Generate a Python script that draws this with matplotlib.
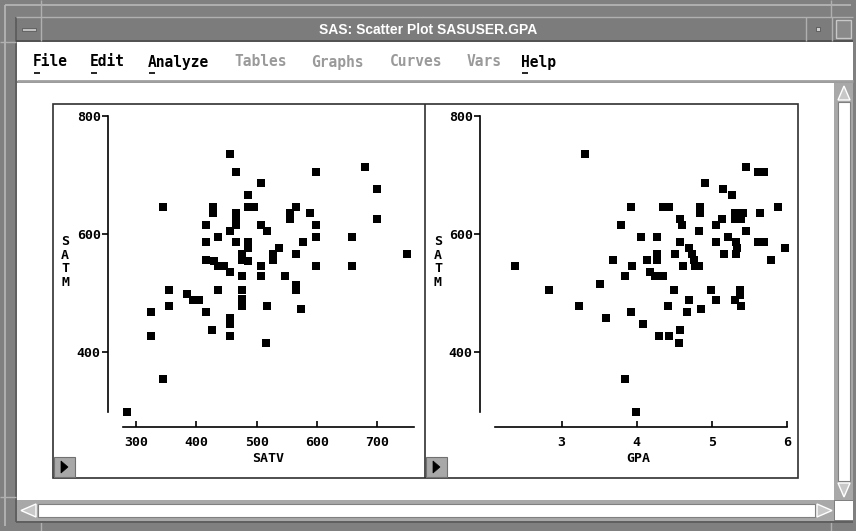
import matplotlib
matplotlib.use("Agg")
from matplotlib import pyplot as plt
from matplotlib.patches import Rectangle, Polygon

# SATV vs SATM (left panel)
satv = [456, 466, 598, 680, 507, 700, 486, 345, 427, 427, 486, 496, 566, 556, 556,
        589, 466, 466, 466, 700, 416, 507, 598, 456, 518, 436, 598, 658, 416, 466,
        486, 486, 577, 537, 475, 475, 486, 527, 527, 566, 749, 416, 429, 436, 446,
        507, 598, 658, 456, 475, 507, 547, 566, 566, 355, 475, 436, 384, 395, 405,
        475, 475, 355, 518, 573, 325, 416, 456, 456, 426, 325, 456, 516, 345, 285]
satm_v = [736, 705, 705, 714, 686, 676, 666, 646, 646, 636, 646, 646, 646, 636, 626,
          636, 635, 625, 615, 626, 615, 615, 615, 605, 605, 595, 595, 595, 586, 586,
          586, 577, 586, 577, 566, 556, 554, 566, 556, 566, 566, 556, 554, 546, 546,
          546, 546, 546, 536, 528, 528, 528, 514, 505, 505, 505, 505, 498, 488, 488,
          489, 478, 478, 478, 473, 467, 467, 457, 447, 437, 427, 427, 415, 354, 299]

# GPA vs SATM (right panel)
gpa = [3.31, 5.45, 5.62, 5.69, 4.91, 5.15, 5.27, 3.92, 4.35, 4.43, 4.84, 4.84, 5.88,
       5.31, 5.42, 5.31, 5.39, 5.64, 4.58, 4.60, 5.13, 5.05, 3.79, 4.83, 5.45, 4.06,
       4.27, 5.21, 4.58, 5.05, 5.32, 5.34, 5.62, 5.69, 5.98, 4.70, 4.73, 4.76, 4.83,
       4.77, 4.27, 4.27, 4.51, 5.16, 5.32, 3.68, 4.13, 5.79, 3.94, 2.38, 4.61, 4.18,
       3.84, 4.24, 4.35, 3.51, 2.83, 4.50, 4.99, 5.37, 5.37, 5.31, 5.39, 4.70, 5.05,
       3.23, 4.41, 3.92, 4.67, 4.86, 3.59, 4.08, 4.30, 4.43, 4.58, 4.56, 3.84, 3.99]
satm_g = [736, 714, 705, 705, 686, 676, 666, 646, 646, 646, 646, 635, 646,
          635, 635, 626, 626, 635, 626, 615, 626, 615, 615, 605, 605, 595,
          595, 595, 586, 586, 586, 577, 586, 586, 577, 577, 566, 556, 546,
          546, 566, 556, 566, 566, 566, 556, 556, 556, 546, 546, 546, 536,
          528, 528, 528, 516, 505, 505, 505, 505, 497, 488, 478, 488, 488,
          478, 478, 467, 467, 473, 457, 447, 427, 427, 437, 415, 354, 299]

satv_ticks = [300, 400, 500, 600, 700]
gpa_ticks = [3, 4, 5, 6]
satm_ticks = [400, 600, 800]

W, H = 856, 531
fig = plt.figure(figsize=(W / 100, H / 100), dpi=100, facecolor='#808080')

bg = fig.add_axes([0, 0, 1, 1])
bg.set_xlim(0, W)
bg.set_ylim(H, 0)
bg.axis('off')

def box(x0, y0, x1, y1, fc, ec='none', lw=1.0):
    bg.add_patch(Rectangle((x0, y0), x1 - x0, y1 - y0, facecolor=fc, edgecolor=ec, lw=lw))

def line(xs, ys, c, lw=1.0):
    bg.plot(xs, ys, color=c, lw=lw, solid_capstyle='butt')

# window frame
line([5, 5], [5, 526], '#b8b8b8', 1.2)
line([5, 851], [5, 5], '#b8b8b8', 1.2)
line([16, 16], [17, 522], '#5a5a5a', 1.2)
line([16, 853], [17, 17], '#b0b0b0', 1.0)
for x in (41, 831):
    line([x, x], [0, 17], '#b0b0b0', 1.0)
    line([x, x], [522, 531], '#b0b0b0', 1.0)
line([0, 16], [42, 42], '#b0b0b0', 1.0)
line([0, 16], [497, 497], '#b0b0b0', 1.0)

# title bar
box(16, 17, 853, 41, '#7c7c7c')
line([16, 853], [41, 41], '#4a4a4a', 1.2)
box(22, 28, 36, 31, '#c0c0c0', '#5a5a5a', 0.6)
line([41, 41], [17, 41], '#b0b0b0', 1.0)
line([806, 806], [17, 41], '#b0b0b0', 1.0)
line([832, 832], [17, 41], '#b0b0b0', 1.0)
box(816, 27, 820, 31, '#d0d0d0', '#555555', 0.6)
box(836, 20, 851, 38, '#8a8a8a', '#c8c8c8', 1.0)
bg.text(428, 30, 'SAS: Scatter Plot SASUSER.GPA', color='white', fontsize=10,
        fontweight='bold', family='Liberation Sans', ha='center', va='center')

# menu bar
box(17, 42, 853, 81, 'white')
line([17, 853], [81, 81], '#a0a0a0', 2.0)
menu_items = ['File', 'Edit', 'Analyze', 'Tables', 'Graphs', 'Curves', 'Vars', 'Help']
menu_x = [33, 90, 148, 234, 311, 390, 467, 521]
menu_on = [True, True, True, False, False, False, False, True]
for lab, mx, on in zip(menu_items, menu_x, menu_on):
    bg.text(mx, 62, lab, fontsize=10.5, fontweight='bold', family='DejaVu Sans Mono',
            color='black' if on else '#9a9a9a', ha='left', va='center')
    if on:
        line([mx + 1, mx + 7], [73, 73], 'black', 1.2)

# client area
box(17, 83, 834, 500, 'white')

# vertical scrollbar
box(834, 83, 853, 500, '#a8a8a8')
box(838, 102, 850, 481, 'white', '#808080', 0.8)
bg.add_patch(Polygon([[838, 100], [850, 100], [844, 86]], closed=True,
                     facecolor='#c8c8c8', edgecolor='white', lw=1.0))
bg.add_patch(Polygon([[838, 483], [850, 483], [844, 497]], closed=True,
                     facecolor='#c8c8c8', edgecolor='white', lw=1.0))

# horizontal scrollbar
box(17, 500, 834, 521, '#a8a8a8')
box(38, 504, 815, 517, 'white', '#808080', 0.8)
bg.add_patch(Polygon([[36, 504], [36, 517], [21, 510.5]], closed=True,
                     facecolor='#c8c8c8', edgecolor='white', lw=1.0))
bg.add_patch(Polygon([[817, 504], [817, 517], [832, 510.5]], closed=True,
                     facecolor='#c8c8c8', edgecolor='white', lw=1.0))
box(835, 501, 853, 520, 'white')
line([16, 853], [522, 522], '#5a5a5a', 1.2)

# plot panel
box(53, 104, 798, 478, 'white', '#303030', 1.2)
line([425, 425], [104, 478], '#303030', 1.2)
for bx in (54, 426):
    box(bx, 457, bx + 21, 477, '#a8a8a8', '#707070', 0.8)
    bg.add_patch(Polygon([[bx + 7, 461], [bx + 7, 473], [bx + 14, 467]], closed=True,
                         facecolor='black', edgecolor='black', lw=0.5))

tick_font = dict(family='DejaVu Sans Mono', fontweight='bold', fontsize=9.5)

def make_axes(x0, x1, xlim, xticks, xvals, yvals, xlabel, xlab_x, ylab_x):
    y0, y1 = 116, 412
    ax = fig.add_axes([x0 / W, 1 - y1 / H, (x1 - x0) / W, (y1 - y0) / H])
    ax.patch.set_alpha(0)
    ax.plot(xvals, yvals, 's', color='black', markersize=5.4, markeredgewidth=0,
            clip_on=False)
    ax.set_xlim(*xlim)
    ax.set_ylim(298.3, 800)
    ax.set_xticks(xticks)
    ax.set_yticks(satm_ticks)
    for s in ('top', 'right'):
        ax.spines[s].set_visible(False)
    ax.spines['left'].set_position(('outward', 11))
    ax.spines['bottom'].set_position(('outward', 11))
    ax.spines['left'].set_linewidth(1.2)
    ax.spines['bottom'].set_linewidth(1.2)
    ax.tick_params(axis='y', direction='out', length=4, width=1.2, pad=1)
    ax.tick_params(axis='x', direction='in', length=4, width=1.2, pad=6)
    for t in ax.get_xticklabels() + ax.get_yticklabels():
        t.set_family(tick_font['family'])
        t.set_fontweight('bold')
        t.set_fontsize(9.5)
    fig.text(xlab_x / W, 1 - 459 / H, xlabel, ha='center', va='center', **tick_font)
    fig.text(ylab_x / W, 1 - 262 / H, 'S\nA\nT\nM', ha='center', va='center',
             linespacing=1.05, **tick_font)
    return ax

make_axes(123, 414, (278.4, 761), satv_ticks, satv, satm_v, 'SATV', 268, 65)
make_axes(495, 787, (2.113, 6.0), gpa_ticks, gpa, satm_g, 'GPA', 638, 438)

fig.savefig('out.png', dpi=100, facecolor=fig.get_facecolor())
